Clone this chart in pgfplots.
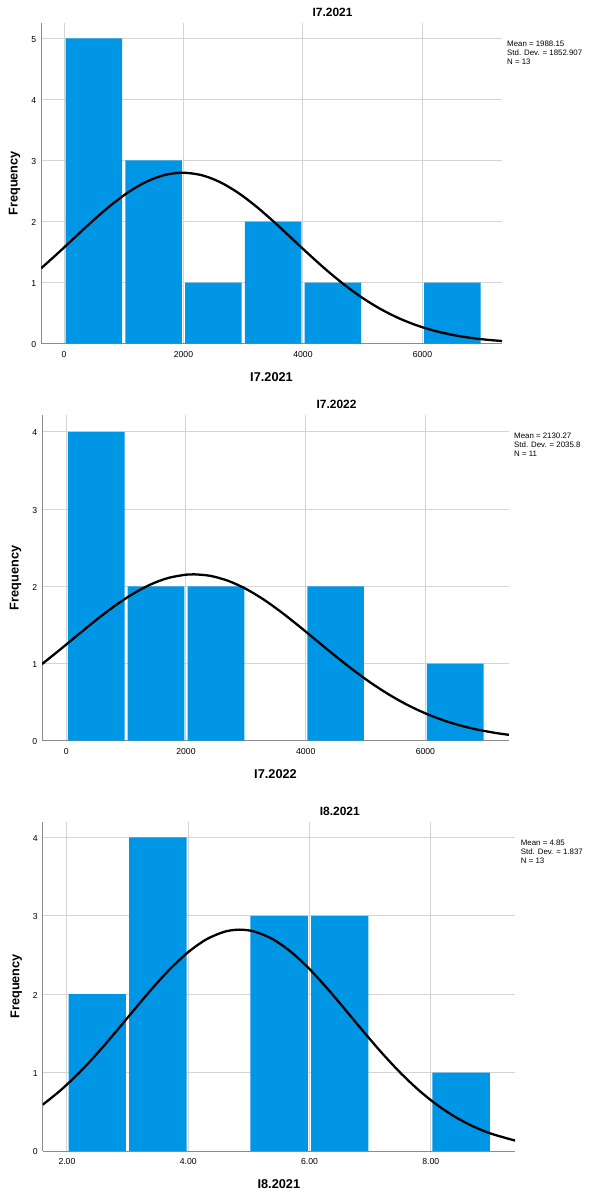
\documentclass[border=0pt]{standalone}
\usepackage{fontspec}
\setmainfont{Liberation Sans}
\usepackage{pgfplots}
\pgfplotsset{compat=1.18}
\definecolor{spssblue}{HTML}{0096E6}
\definecolor{gridgray}{HTML}{D4D4D4}
\definecolor{axgray}{HTML}{8C8C8C}
\pgfplotsset{
 spss/.style={
  scale only axis,
  axis x line=bottom, axis y line=left,
  axis line style={-, axgray, line width=1bp},
  grid=major,
  major grid style={gridgray, line width=1bp},
  major tick length=0pt,
  ymin=0,
  ytick distance=1,
  tick label style={font=\fontsize{8.7}{10}\selectfont},
  /pgf/number format/assume math mode=true,
  /pgf/number format/1000 sep={},
  xticklabel style={yshift=-4.3bp},
  yticklabel style={xshift=-1.4bp, yshift=-1bp},
  every axis title/.style={at={(axis description cs:0.5,1)}, anchor=center, yshift=10.5bp, xshift=61bp, font=\fontsize{12}{14}\selectfont\bfseries},
  every axis x label/.style={at={(axis description cs:0.5,0)}, anchor=center, yshift=-33.5bp, font=\fontsize{12.8}{15}\selectfont\bfseries},
  every axis y label/.style={at={(axis description cs:0,0.5)}, xshift=-26.5bp, rotate=90, anchor=center, font=\fontsize{12.8}{15}\selectfont\bfseries},
  clip mode=individual,
  ylabel={Frequency},
 },
 bars/.style={ybar, bar shift=0pt, fill=spssblue, draw=none},
 curve/.style={black, line width=2.3bp, smooth, mark=none},
}
\tikzset{stat/.style={anchor=north west, inner sep=0pt, align=left, font=\fontsize{7.9}{9}\selectfont}}
\begin{document}
\begin{tikzpicture}
\useasboundingbox (0,0) rectangle (594bp,1196bp);

% Panel 1
\begin{axis}[spss, at={(41bp,852.3bp)}, anchor=south west,
  width=461bp, height=320.7bp,
  xmin=-385, xmax=7331, ymax=5.25,
  xtick={0,2000,4000,6000},
  title={I7.2021}, xlabel={I7.2021}]
\addplot[bars, bar width=946] coordinates {(500,5) (1500,3) (2500,1) (3500,2) (4500,1) (6500,1)};
\addplot[curve] coordinates {
(-385,1.2326) (-100,1.4833) (200,1.7569) (500,2.0273) (800,2.2789) (1100,2.4953)
(1400,2.6615) (1700,2.7654) (1988,2.7990) (2300,2.7597) (2600,2.6505) (2900,2.4798)
(3200,2.2601) (3500,2.0065) (3800,1.7352) (4100,1.4620) (4400,1.1998) (4700,0.9591)
(5000,0.7469) (5300,0.5667) (5600,0.4187) (5900,0.3014) (6200,0.2113) (6500,0.1443)
(6800,0.0961) (7100,0.0623) (7331,0.0438)};
\node[stat, xshift=5bp, yshift=-17.7bp] at (axis description cs:1,1) {Mean = 1988.15\\Std. Dev. = 1852.907\\N = 13};
\end{axis}

% Panel 2
\begin{axis}[spss, at={(42bp,455.3bp)}, anchor=south west,
  width=467bp, height=325.7bp,
  xmin=-406, xmax=7397, ymax=4.22,
  xtick={0,2000,4000,6000},
  title={I7.2022}, xlabel={I7.2022}]
\addplot[bars, bar width=947] coordinates {(500,4) (1500,2) (2500,2) (4500,2) (6500,1)};
\addplot[curve] coordinates {
(-406,0.9921) (-100,1.1829) (200,1.3751) (500,1.5643) (800,1.7412) (1100,1.8965)
(1400,2.0213) (1700,2.1080) (2000,2.1512) (2130,2.1556) (2400,2.1368) (2700,2.0728)
(3000,1.9676) (3300,1.8276) (3600,1.6611) (3900,1.4773) (4200,1.2856) (4500,1.0948)
(4800,0.9123) (5100,0.7438) (5400,0.5935) (5700,0.4634) (6000,0.3540) (6300,0.2646)
(6600,0.1935) (6900,0.1385) (7200,0.0970) (7397,0.0759)};
\node[stat, xshift=5bp, yshift=-18.2bp] at (axis description cs:1,1) {Mean = 2130.27\\Std. Dev. = 2035.8\\N = 11};
\end{axis}

% Panel 3
\begin{axis}[spss, at={(42.7bp,45bp)}, anchor=south west,
  width=472.3bp, height=329.3bp,
  xmin=1.60, xmax=9.39, ymax=4.2,
  xtick={2,4,6,8},
  xticklabel style={/pgf/number format/.cd, fixed, fixed zerofill, precision=2},
  title={I8.2021}, xlabel={I8.2021}]
\addplot[bars, bar width=0.947] coordinates {(2.5,2) (3.5,4) (5.5,3) (6.5,3) (8.5,1)};
\addplot[curve] coordinates {
(1.60,0.5903) (1.90,0.7776) (2.20,0.9974) (2.50,1.2456) (2.80,1.5147) (3.10,1.7934)
(3.40,2.0675) (3.70,2.3208) (4.00,2.5366) (4.30,2.6995) (4.60,2.7972) (4.85,2.8232)
(5.10,2.7972) (5.40,2.6995) (5.70,2.5366) (6.00,2.3208) (6.30,2.0675) (6.60,1.7934)
(6.90,1.5147) (7.20,1.2456) (7.50,0.9974) (7.80,0.7776) (8.10,0.5903) (8.40,0.4364)
(8.70,0.3140) (9.00,0.2200) (9.39,0.1332)};
\node[stat, xshift=5.7bp, yshift=-18.5bp] at (axis description cs:1,1) {Mean = 4.85\\Std. Dev. = 1.837\\N = 13};
\end{axis}
\end{tikzpicture}
\end{document}
